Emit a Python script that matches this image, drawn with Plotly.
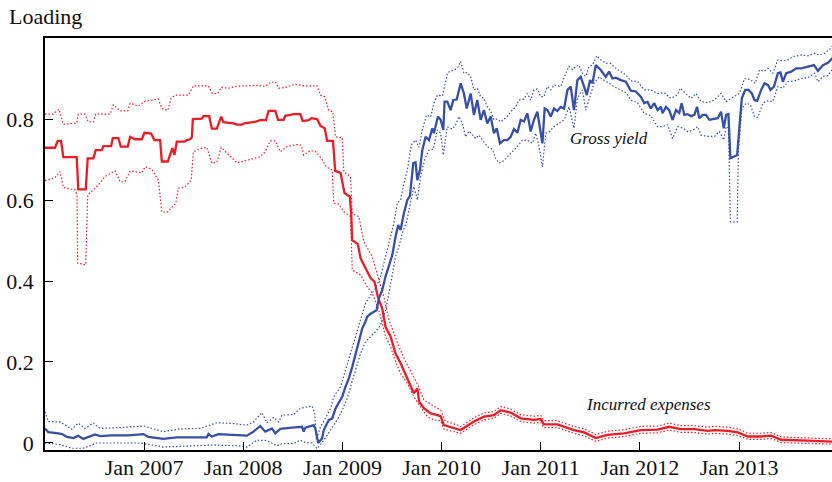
import plotly.graph_objects as go
import pandas as pd

# decimal-year dates, with loadings
exp_t = [2006.000, 2006.101, 2006.128, 2006.162, 2006.185, 2006.320, 2006.336, 2006.411, 2006.431, 2006.488,
         2006.512, 2006.573, 2006.589, 2006.667, 2006.684, 2006.740, 2006.765, 2006.835, 2006.859, 2006.909,
         2006.977, 2007.003, 2007.071, 2007.104, 2007.162, 2007.179, 2007.239, 2007.263, 2007.286, 2007.306,
         2007.330, 2007.407, 2007.431, 2007.465, 2007.482, 2007.492, 2007.583, 2007.599, 2007.657, 2007.684,
         2007.734, 2007.778, 2007.801, 2007.902, 2007.936, 2007.987, 2008.020, 2008.104, 2008.172, 2008.229,
         2008.256, 2008.323, 2008.351, 2008.407, 2008.424, 2008.475, 2008.508, 2008.576, 2008.599, 2008.660,
         2008.687, 2008.744, 2008.778, 2008.821, 2008.845, 2008.904, 2008.926, 2008.980, 2009.020, 2009.074,
         2009.088, 2009.098, 2009.155, 2009.182, 2009.249, 2009.283, 2009.323, 2009.356, 2009.401, 2009.434,
         2009.485, 2009.535, 2009.586, 2009.636, 2009.680, 2009.720, 2009.755, 2009.773, 2009.821, 2009.889,
         2009.957, 2009.990, 2010.023, 2010.091, 2010.192, 2010.326, 2010.427, 2010.528, 2010.596, 2010.697,
         2010.798, 2010.932, 2011.000, 2011.033, 2011.168, 2011.336, 2011.438, 2011.556, 2011.674, 2011.841,
         2012.010, 2012.179, 2012.296, 2012.414, 2012.548, 2012.684, 2012.750, 2012.886, 2012.987, 2013.088,
         2013.222, 2013.323, 2013.424, 2013.694, 2013.949]
exp_mid = [0.729, 0.729, 0.746, 0.746, 0.706, 0.706, 0.626, 0.626, 0.703, 0.703,
           0.723, 0.723, 0.733, 0.733, 0.753, 0.753, 0.732, 0.732, 0.756, 0.750,
           0.750, 0.766, 0.764, 0.748, 0.748, 0.695, 0.695, 0.711, 0.728, 0.711,
           0.744, 0.744, 0.748, 0.750, 0.755, 0.800, 0.801, 0.807, 0.807, 0.776,
           0.776, 0.806, 0.792, 0.789, 0.786, 0.786, 0.790, 0.792, 0.797, 0.797,
           0.820, 0.820, 0.798, 0.798, 0.808, 0.810, 0.812, 0.812, 0.795, 0.797,
           0.802, 0.800, 0.783, 0.777, 0.746, 0.746, 0.672, 0.667, 0.617, 0.608,
           0.563, 0.501, 0.491, 0.456, 0.423, 0.407, 0.398, 0.361, 0.332, 0.287,
           0.263, 0.221, 0.197, 0.168, 0.143, 0.123, 0.135, 0.102, 0.086, 0.073,
           0.069, 0.066, 0.044, 0.039, 0.032, 0.053, 0.065, 0.069, 0.081, 0.075,
           0.061, 0.057, 0.059, 0.046, 0.046, 0.032, 0.026, 0.012, 0.020, 0.024,
           0.032, 0.033, 0.040, 0.034, 0.034, 0.030, 0.032, 0.030, 0.026, 0.016,
           0.016, 0.018, 0.008, 0.006, 0.003]

exp_hi_t = [2006.000, 2006.081, 2006.141, 2006.185, 2006.320, 2006.336, 2006.404, 2006.437, 2006.488, 2006.512,
            2006.657, 2006.690, 2006.758, 2006.835, 2006.859, 2006.942, 2007.010, 2007.144, 2007.179, 2007.239,
            2007.273, 2007.313, 2007.447, 2007.498, 2007.649, 2007.690, 2007.744, 2007.778, 2007.852, 2007.936,
            2008.155, 2008.222, 2008.273, 2008.323, 2008.357, 2008.424, 2008.525, 2008.609, 2008.744, 2008.778,
            2008.821, 2008.862, 2008.902, 2008.929, 2008.997, 2009.013, 2009.081, 2009.098, 2009.165, 2009.215,
            2009.300, 2009.350, 2009.417, 2009.468, 2009.518, 2009.569, 2009.636, 2009.704, 2009.737, 2009.761,
            2009.821, 2009.922, 2009.990, 2010.040, 2010.091, 2010.192, 2010.326, 2010.427, 2010.528, 2010.596,
            2010.697, 2010.798, 2010.932, 2011.000, 2011.033, 2011.168, 2011.336, 2011.438, 2011.556, 2011.674,
            2011.841, 2012.010, 2012.179, 2012.296, 2012.414, 2012.548, 2012.684, 2012.750, 2012.886, 2012.987,
            2013.088, 2013.222, 2013.323, 2013.424, 2013.694, 2013.949]
exp_hi = [0.812, 0.812, 0.824, 0.787, 0.790, 0.812, 0.812, 0.793, 0.793, 0.812,
          0.812, 0.835, 0.820, 0.820, 0.839, 0.832, 0.844, 0.849, 0.826, 0.821,
          0.851, 0.859, 0.859, 0.882, 0.882, 0.863, 0.863, 0.878, 0.876, 0.881,
          0.883, 0.880, 0.890, 0.892, 0.876, 0.878, 0.886, 0.882, 0.882, 0.859,
          0.855, 0.821, 0.818, 0.756, 0.754, 0.670, 0.658, 0.567, 0.559, 0.497,
          0.460, 0.415, 0.361, 0.304, 0.271, 0.238, 0.201, 0.168, 0.156, 0.143,
          0.106, 0.090, 0.081, 0.053, 0.050, 0.041, 0.062, 0.074, 0.078, 0.090,
          0.084, 0.070, 0.066, 0.068, 0.055, 0.055, 0.041, 0.035, 0.021, 0.029,
          0.033, 0.041, 0.042, 0.049, 0.043, 0.043, 0.039, 0.041, 0.039, 0.035,
          0.024, 0.024, 0.026, 0.015, 0.013, 0.010]

exp_lo_t = [2006.000, 2006.101, 2006.152, 2006.185, 2006.303, 2006.323, 2006.330, 2006.411, 2006.431, 2006.488,
            2006.538, 2006.606, 2006.707, 2006.758, 2006.808, 2006.859, 2006.977, 2007.010, 2007.077, 2007.144,
            2007.179, 2007.229, 2007.280, 2007.320, 2007.346, 2007.414, 2007.475, 2007.498, 2007.583, 2007.633,
            2007.684, 2007.734, 2007.778, 2007.852, 2007.936, 2008.054, 2008.172, 2008.222, 2008.273, 2008.323,
            2008.374, 2008.441, 2008.542, 2008.586, 2008.609, 2008.677, 2008.727, 2008.795, 2008.835, 2008.896,
            2008.912, 2008.963, 2009.013, 2009.081, 2009.088, 2009.098, 2009.182, 2009.249, 2009.300, 2009.367,
            2009.401, 2009.434, 2009.485, 2009.535, 2009.586, 2009.654, 2009.720, 2009.788, 2009.856, 2009.922,
            2009.990, 2010.023, 2010.091, 2010.192, 2010.326, 2010.427, 2010.528, 2010.596, 2010.697, 2010.798,
            2010.932, 2011.000, 2011.033, 2011.168, 2011.336, 2011.438, 2011.556, 2011.674, 2011.841, 2012.010,
            2012.179, 2012.296, 2012.414, 2012.548, 2012.684, 2012.750, 2012.886, 2012.987, 2013.088, 2013.222,
            2013.323, 2013.424, 2013.694, 2013.949]
exp_lo = [0.648, 0.655, 0.670, 0.631, 0.625, 0.612, 0.444, 0.440, 0.612, 0.625,
          0.637, 0.658, 0.672, 0.645, 0.645, 0.672, 0.667, 0.682, 0.676, 0.649,
          0.571, 0.569, 0.583, 0.592, 0.629, 0.632, 0.649, 0.719, 0.728, 0.730,
          0.691, 0.693, 0.730, 0.711, 0.692, 0.699, 0.707, 0.719, 0.746, 0.746,
          0.719, 0.732, 0.737, 0.735, 0.711, 0.722, 0.720, 0.700, 0.682, 0.674,
          0.592, 0.590, 0.571, 0.559, 0.485, 0.427, 0.415, 0.386, 0.370, 0.328,
          0.296, 0.263, 0.238, 0.201, 0.172, 0.147, 0.114, 0.090, 0.065, 0.057,
          0.055, 0.034, 0.030, 0.024, 0.045, 0.057, 0.061, 0.073, 0.067, 0.053,
          0.049, 0.051, 0.038, 0.038, 0.024, 0.018, 0.004, 0.012, 0.016, 0.024,
          0.025, 0.032, 0.026, 0.026, 0.022, 0.024, 0.022, 0.018, 0.009, 0.009,
          0.011, 0.001, -0.001, -0.003]

yld_t = [2006.000, 2006.033, 2006.134, 2006.172, 2006.222, 2006.286, 2006.336, 2006.387, 2006.505, 2006.556,
         2006.674, 2006.841, 2006.993, 2007.043, 2007.195, 2007.330, 2007.447, 2007.633, 2007.650, 2007.684,
         2007.751, 2007.869, 2007.970, 2008.037, 2008.104, 2008.172, 2008.222, 2008.290, 2008.323, 2008.374,
         2008.492, 2008.593, 2008.609, 2008.626, 2008.710, 2008.727, 2008.755, 2008.795, 2008.811, 2008.845,
         2008.862, 2008.896, 2008.929, 2008.963, 2008.997, 2009.030, 2009.064, 2009.098, 2009.131, 2009.165,
         2009.199, 2009.232, 2009.249, 2009.283, 2009.316, 2009.343, 2009.367, 2009.401, 2009.434, 2009.468,
         2009.502, 2009.535, 2009.562, 2009.586, 2009.619, 2009.654, 2009.680, 2009.714, 2009.737, 2009.755,
         2009.781, 2009.805, 2009.838, 2009.872, 2009.906, 2009.922, 2009.963, 2009.990, 2010.017, 2010.030,
         2010.057, 2010.091, 2010.118, 2010.152, 2010.192, 2010.225, 2010.253, 2010.293, 2010.326, 2010.360,
         2010.394, 2010.427, 2010.461, 2010.495, 2010.528, 2010.556, 2010.589, 2010.629, 2010.663, 2010.697,
         2010.730, 2010.765, 2010.798, 2010.831, 2010.865, 2010.899, 2010.932, 2010.966, 2010.993, 2011.017,
         2011.040, 2011.067, 2011.101, 2011.134, 2011.168, 2011.202, 2011.236, 2011.270, 2011.303, 2011.336,
         2011.370, 2011.404, 2011.438, 2011.465, 2011.498, 2011.522, 2011.556, 2011.606, 2011.657, 2011.690,
         2011.724, 2011.758, 2011.808, 2011.859, 2011.909, 2011.960, 2012.010, 2012.044, 2012.078, 2012.111,
         2012.145, 2012.179, 2012.212, 2012.229, 2012.263, 2012.296, 2012.330, 2012.364, 2012.397, 2012.421,
         2012.448, 2012.482, 2012.515, 2012.549, 2012.576, 2012.599, 2012.633, 2012.667, 2012.700, 2012.734,
         2012.785, 2012.818, 2012.845, 2012.869, 2012.892, 2012.912, 2012.953, 2012.980, 2013.003, 2013.027,
         2013.061, 2013.094, 2013.128, 2013.155, 2013.182, 2013.222, 2013.256, 2013.290, 2013.316, 2013.351,
         2013.391, 2013.417, 2013.441, 2013.475, 2013.525, 2013.576, 2013.626, 2013.694, 2013.755, 2013.795,
         2013.846, 2013.896, 2013.929, 2013.949]
yld_mid = [0.036, 0.027, 0.024, 0.022, 0.015, 0.012, 0.018, 0.010, 0.021, 0.017,
           0.019, 0.019, 0.022, 0.015, 0.010, 0.014, 0.014, 0.014, 0.022, 0.016,
           0.022, 0.021, 0.019, 0.018, 0.028, 0.042, 0.028, 0.036, 0.024, 0.035,
           0.038, 0.040, 0.028, 0.038, 0.044, 0.035, 0.000, 0.012, 0.032, 0.047,
           0.057, 0.060, 0.085, 0.100, 0.114, 0.139, 0.160, 0.188, 0.221, 0.250,
           0.283, 0.300, 0.312, 0.319, 0.324, 0.328, 0.357, 0.378, 0.411, 0.440,
           0.464, 0.509, 0.538, 0.526, 0.567, 0.600, 0.610, 0.691, 0.693, 0.649,
           0.674, 0.723, 0.756, 0.748, 0.777, 0.765, 0.806, 0.798, 0.773, 0.843,
           0.843, 0.822, 0.847, 0.848, 0.888, 0.863, 0.826, 0.863, 0.810, 0.847,
           0.798, 0.822, 0.789, 0.806, 0.765, 0.777, 0.740, 0.748, 0.748, 0.756,
           0.775, 0.766, 0.798, 0.794, 0.814, 0.769, 0.798, 0.818, 0.773, 0.740,
           0.826, 0.822, 0.806, 0.826, 0.820, 0.830, 0.826, 0.872, 0.880, 0.822,
           0.896, 0.904, 0.880, 0.859, 0.896, 0.888, 0.933, 0.921, 0.904, 0.917,
           0.900, 0.902, 0.896, 0.892, 0.870, 0.868, 0.855, 0.839, 0.842, 0.826,
           0.839, 0.822, 0.830, 0.814, 0.830, 0.822, 0.798, 0.822, 0.815, 0.839,
           0.810, 0.812, 0.807, 0.810, 0.830, 0.802, 0.810, 0.810, 0.798, 0.800,
           0.802, 0.818, 0.777, 0.810, 0.812, 0.703, 0.707, 0.711, 0.781, 0.851,
           0.872, 0.872, 0.863, 0.847, 0.845, 0.872, 0.888, 0.884, 0.872, 0.880,
           0.913, 0.915, 0.892, 0.913, 0.917, 0.925, 0.925, 0.930, 0.933, 0.919,
           0.933, 0.939, 0.946, 0.952]

yld_hi_t = [2006.000, 2006.033, 2006.152, 2006.270, 2006.336, 2006.404, 2006.488, 2006.556, 2006.758, 2006.993,
            2007.195, 2007.364, 2007.566, 2007.734, 2007.902, 2008.037, 2008.104, 2008.189, 2008.239, 2008.306,
            2008.357, 2008.391, 2008.508, 2008.576, 2008.694, 2008.720, 2008.737, 2008.778, 2008.828, 2008.879,
            2008.912, 2008.980, 2009.030, 2009.081, 2009.131, 2009.182, 2009.232, 2009.283, 2009.333, 2009.384,
            2009.417, 2009.452, 2009.485, 2009.518, 2009.552, 2009.586, 2009.619, 2009.654, 2009.694, 2009.737,
            2009.771, 2009.805, 2009.848, 2009.889, 2009.922, 2009.957, 2010.007, 2010.030, 2010.061, 2010.125,
            2010.159, 2010.192, 2010.225, 2010.259, 2010.293, 2010.326, 2010.360, 2010.394, 2010.427, 2010.461,
            2010.495, 2010.528, 2010.562, 2010.596, 2010.663, 2010.697, 2010.747, 2010.781, 2010.831, 2010.865,
            2010.899, 2010.932, 2010.966, 2011.000, 2011.033, 2011.067, 2011.101, 2011.134, 2011.202, 2011.253,
            2011.286, 2011.320, 2011.354, 2011.387, 2011.421, 2011.455, 2011.488, 2011.522, 2011.566, 2011.606,
            2011.657, 2011.707, 2011.758, 2011.808, 2011.859, 2011.909, 2011.977, 2012.044, 2012.111, 2012.179,
            2012.246, 2012.313, 2012.381, 2012.407, 2012.465, 2012.515, 2012.566, 2012.616, 2012.684, 2012.751,
            2012.818, 2012.869, 2012.919, 2012.970, 2013.003, 2013.054, 2013.104, 2013.162, 2013.205, 2013.256,
            2013.290, 2013.340, 2013.391, 2013.441, 2013.492, 2013.542, 2013.626, 2013.694, 2013.761, 2013.811,
            2013.862, 2013.912, 2013.949]
yld_hi = [0.077, 0.053, 0.052, 0.034, 0.049, 0.036, 0.049, 0.036, 0.038, 0.042,
          0.028, 0.035, 0.036, 0.050, 0.048, 0.044, 0.052, 0.075, 0.050, 0.063,
          0.052, 0.069, 0.070, 0.086, 0.091, 0.073, 0.008, 0.040, 0.061, 0.085,
          0.114, 0.139, 0.180, 0.221, 0.263, 0.304, 0.345, 0.365, 0.382, 0.411,
          0.444, 0.477, 0.509, 0.542, 0.592, 0.600, 0.641, 0.674, 0.736, 0.748,
          0.730, 0.773, 0.810, 0.805, 0.839, 0.859, 0.857, 0.880, 0.915, 0.921,
          0.925, 0.942, 0.913, 0.915, 0.904, 0.872, 0.876, 0.855, 0.851, 0.830,
          0.820, 0.798, 0.800, 0.793, 0.806, 0.818, 0.830, 0.847, 0.849, 0.863,
          0.847, 0.872, 0.874, 0.855, 0.855, 0.880, 0.872, 0.884, 0.880, 0.913,
          0.930, 0.922, 0.930, 0.933, 0.913, 0.905, 0.930, 0.933, 0.956, 0.946,
          0.938, 0.937, 0.925, 0.917, 0.909, 0.894, 0.893, 0.872, 0.872, 0.863,
          0.865, 0.851, 0.860, 0.876, 0.863, 0.851, 0.863, 0.843, 0.840, 0.847,
          0.863, 0.843, 0.851, 0.859, 0.863, 0.900, 0.898, 0.888, 0.921, 0.918,
          0.925, 0.913, 0.946, 0.944, 0.946, 0.954, 0.958, 0.956, 0.962, 0.958,
          0.962, 0.972, 0.983]

yld_lo_t = [2006.000, 2006.152, 2006.270, 2006.387, 2006.522, 2006.960, 2007.195, 2007.414, 2007.700, 2007.970,
            2008.037, 2008.138, 2008.239, 2008.340, 2008.391, 2008.508, 2008.576, 2008.626, 2008.694, 2008.744,
            2008.811, 2008.879, 2008.946, 2008.997, 2009.047, 2009.081, 2009.131, 2009.182, 2009.232, 2009.283,
            2009.333, 2009.384, 2009.434, 2009.468, 2009.502, 2009.535, 2009.569, 2009.603, 2009.646, 2009.687,
            2009.720, 2009.755, 2009.788, 2009.828, 2009.872, 2009.916, 2009.957, 2009.990, 2010.017, 2010.057,
            2010.108, 2010.141, 2010.175, 2010.209, 2010.242, 2010.276, 2010.310, 2010.343, 2010.377, 2010.411,
            2010.461, 2010.512, 2010.545, 2010.579, 2010.629, 2010.680, 2010.714, 2010.765, 2010.815, 2010.865,
            2010.916, 2010.949, 2010.983, 2011.017, 2011.051, 2011.084, 2011.134, 2011.185, 2011.236, 2011.286,
            2011.320, 2011.336, 2011.370, 2011.421, 2011.455, 2011.488, 2011.538, 2011.589, 2011.640, 2011.690,
            2011.740, 2011.808, 2011.859, 2011.909, 2011.977, 2012.044, 2012.111, 2012.179, 2012.229, 2012.280,
            2012.330, 2012.381, 2012.431, 2012.482, 2012.532, 2012.583, 2012.616, 2012.684, 2012.751, 2012.801,
            2012.845, 2012.869, 2012.892, 2012.912, 2012.980, 2012.993, 2013.027, 2013.071, 2013.114, 2013.155,
            2013.189, 2013.239, 2013.290, 2013.340, 2013.391, 2013.441, 2013.492, 2013.559, 2013.626, 2013.694,
            2013.761, 2013.795, 2013.846, 2013.896, 2013.949]
yld_lo = [0.000, -0.004, -0.013, -0.013, 0.000, 0.000, -0.010, -0.008, -0.005, -0.007,
          -0.010, 0.007, 0.006, -0.007, -0.002, -0.001, 0.007, 0.001, 0.000, -0.014,
          0.007, 0.032, 0.057, 0.081, 0.110, 0.139, 0.180, 0.221, 0.250, 0.263,
          0.275, 0.291, 0.328, 0.370, 0.411, 0.460, 0.485, 0.518, 0.546, 0.592,
          0.633, 0.600, 0.658, 0.699, 0.723, 0.725, 0.773, 0.765, 0.711, 0.781,
          0.775, 0.785, 0.806, 0.790, 0.756, 0.770, 0.762, 0.752, 0.760, 0.748,
          0.732, 0.725, 0.703, 0.691, 0.697, 0.711, 0.720, 0.732, 0.748, 0.748,
          0.740, 0.765, 0.733, 0.682, 0.765, 0.768, 0.781, 0.789, 0.798, 0.830,
          0.798, 0.777, 0.851, 0.872, 0.822, 0.847, 0.888, 0.904, 0.895, 0.888,
          0.880, 0.872, 0.865, 0.847, 0.840, 0.814, 0.808, 0.781, 0.781, 0.786,
          0.752, 0.781, 0.778, 0.769, 0.772, 0.781, 0.760, 0.757, 0.757, 0.769,
          0.748, 0.781, 0.778, 0.546, 0.546, 0.723, 0.826, 0.839, 0.835, 0.806,
          0.804, 0.839, 0.845, 0.843, 0.880, 0.876, 0.892, 0.894, 0.900, 0.902,
          0.913, 0.892, 0.905, 0.907, 0.926]

tick_dates = ["2007-01-01", "2008-01-01", "2009-01-01", "2010-01-01",
              "2011-01-01", "2012-01-01", "2013-01-01"]
tick_text = ["Jan 2007", "Jan 2008", "Jan 2009", "Jan 2010", "Jan 2011", "Jan 2012", "Jan 2013"]

RED = "#ec1c24"
BLUE = "#3650a8"
FONT = "Liberation Serif, Times New Roman, Times, serif"


def to_dates(years):
    out = []
    for y in years:
        yr = int(y)
        start = pd.Timestamp(year=yr, month=1, day=1)
        end = pd.Timestamp(year=yr + 1, month=1, day=1)
        out.append(start + (end - start) * (y - yr))
    return out


fig = go.Figure()

for t, v, color, width, dash in [
    (exp_hi_t, exp_hi, RED, 1.2, "1.5px,2px"),
    (exp_lo_t, exp_lo, RED, 1.2, "1.5px,2px"),
    (exp_t, exp_mid, RED, 2.3, "solid"),
    (yld_hi_t, yld_hi, BLUE, 1.2, "1.5px,2px"),
    (yld_lo_t, yld_lo, BLUE, 1.2, "1.5px,2px"),
    (yld_t, yld_mid, BLUE, 2.3, "solid"),
]:
    fig.add_trace(go.Scatter(x=to_dates(t), y=v, mode="lines",
                             line=dict(color=color, width=width, dash=dash),
                             showlegend=False, hoverinfo="skip"))

fig.add_annotation(x="2011-09-10", y=0.753, xref="x", yref="y", text="<i>Gross yield</i>",
                   showarrow=False, font=dict(family=FONT, size=17, color="#111111"))
fig.add_annotation(x="2012-02-03", y=0.094, xref="x", yref="y", text="<i>Incurred expenses</i>",
                   showarrow=False, font=dict(family=FONT, size=17, color="#111111"))
fig.add_annotation(x=-0.0483, y=1.051, xref="paper", yref="paper", text="Loading",
                   xanchor="left", yanchor="middle", showarrow=False,
                   font=dict(family=FONT, size=22, color="#111111"))

fig.update_layout(
    width=832, height=482,
    margin=dict(l=45, r=0, t=38, b=32),
    paper_bgcolor="white", plot_bgcolor="white",
    font=dict(family=FONT, size=22, color="#111111"),
    xaxis=dict(range=["2006-01-01", "2013-12-09"], tickvals=tick_dates, ticktext=tick_text,
               ticks="inside", ticklen=8, tickwidth=1.3, tickcolor="black",
               ticklabelstandoff=-3,
               showline=True, linecolor="black", linewidth=1.5, mirror=True,
               showgrid=False, zeroline=False),
    yaxis=dict(range=[-0.0173, 1.0], tickvals=[0, 0.2, 0.4, 0.6, 0.8],
               ticktext=["0", "0.2", "0.4", "0.6", "0.8"],
               ticks="inside", ticklen=8, tickwidth=1.3, tickcolor="black",
               ticklabelstandoff=5,
               showline=True, linecolor="black", linewidth=1.5,
               showgrid=False, zeroline=False),
)

# drop the browser's default page margin so the figure sits at the window origin
fig.write_html("out.html", config={"displayModeBar": False},
               post_script="document.body.style.margin='0';")
